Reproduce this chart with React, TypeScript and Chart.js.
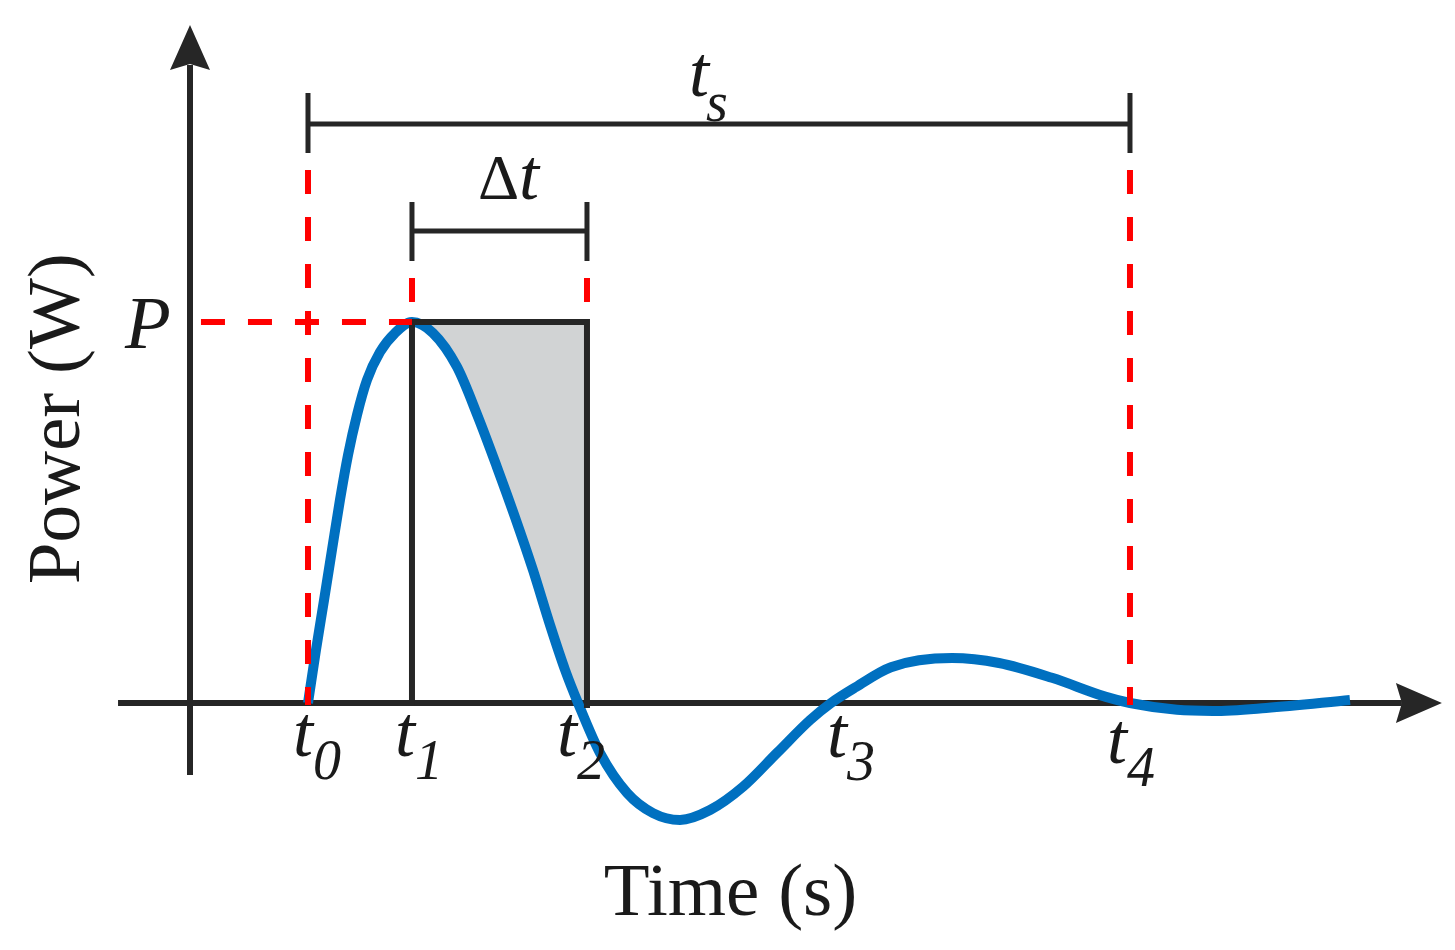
import React, { useEffect, useRef } from "react";
import { Chart, registerables } from "chart.js";

Chart.register(...registerables);

// ---- Data (time in arbitrary units, t0 = 0, t4 = 10; power normalised, P = 1) ----
const timeValues = [
  0, 0.097, 0.195, 0.292, 0.389, 0.487, 0.596, 0.718, 0.876, 1.058, 1.265,
  1.521, 1.813, 2.068, 2.299, 2.518, 2.737, 2.944, 3.127, 3.285, 3.552,
  3.881, 4.197, 4.526, 4.891, 5.292, 5.706, 6.107, 6.363, 6.667, 7.092, 7.835,
  8.406, 9.051, 9.708, 10, 10.572, 11.01, 11.655, 12.676,
];
const powerValues = [
  0, 0.139, 0.27, 0.402, 0.533, 0.651, 0.756, 0.848, 0.921, 0.971, 1.0,
  0.971, 0.882, 0.751, 0.619, 0.488, 0.349, 0.205, 0.087, 0, -0.131,
  -0.236, -0.289, -0.307, -0.281, -0.22, -0.131, -0.045, 0, 0.042, 0.094, 0.118,
  0.105, 0.066, 0.016, 0, -0.018, -0.021, -0.013, 0.008,
];

// key instants
const markTimes = [0, 1.265, 3.394, 6.363, 10]; // t0, t1, t2 (rect edge), t3, t4
const peakPower = 1; // P
const markSubscripts = ["0", "1", "2", "3", "4"];
const markLabelTimes = [-0.182, 1.058, 3.029, 6.314, 9.72];
const markLabelPowers = [-0.139, -0.139, -0.139, -0.142, -0.157];

// view range of the axes
const xView = [-3.747, 13.954];
const yView = [-0.6483, 1.8451];

const INK = "#262626";
const TEXT = "#1a1a1a";
const RED = "#ff0000";
const BLUE = "#0070C0";
const GRAY = "#D1D3D4";
const SERIF = "'Liberation Serif', 'Times New Roman', serif";

function sketchPlugin() {
  return {
    id: "sketch",
    beforeDatasetsDraw(chart: any) {
      const ctx = chart.ctx;
      const xs = chart.scales.x;
      const ys = chart.scales.y;
      const X = (v: number) => xs.getPixelForValue(v);
      const Y = (v: number) => ys.getPixelForValue(v);

      // gray shaded area between curve and P inside [t1, t2]
      const xL = X(markTimes[1]);
      const xR = X(markTimes[2]);
      const yTop = Y(peakPower);
      const yZero = Y(0);
      ctx.save();
      ctx.beginPath();
      ctx.rect(xL, yTop, xR - xL, yZero - yTop);
      ctx.clip();
      ctx.beginPath();
      const meta = chart.getDatasetMeta(0);
      const line = meta && meta.dataset;
      const first = X(timeValues[0]);
      const last = X(timeValues[timeValues.length - 1]);
      if (line && typeof line.path === "function") {
        line.path(ctx);
      } else {
        timeValues.forEach((t, i) => {
          if (i === 0) ctx.moveTo(X(t), Y(powerValues[i]));
          else ctx.lineTo(X(t), Y(powerValues[i]));
        });
      }
      ctx.lineTo(last, yTop);
      ctx.lineTo(first, yTop);
      ctx.closePath();
      ctx.fillStyle = GRAY;
      ctx.fill();
      ctx.restore();

      // axes
      ctx.save();
      ctx.strokeStyle = INK;
      ctx.fillStyle = INK;
      ctx.lineWidth = 6;
      ctx.lineCap = "butt";
      const yAxisX = X(-1.4355);
      const xAxisStart = X(-2.311);
      const xTip = X(13.795);
      const yTip = Y(1.7795);
      const yAxisBottom = Y(-0.189);
      // x axis
      ctx.beginPath();
      ctx.moveTo(xAxisStart, yZero);
      ctx.lineTo(xTip - 40, yZero);
      ctx.stroke();
      // y axis
      ctx.beginPath();
      ctx.moveTo(yAxisX, yAxisBottom);
      ctx.lineTo(yAxisX, yTip + 40);
      ctx.stroke();
      // arrow heads
      ctx.beginPath();
      ctx.moveTo(xTip, yZero);
      ctx.lineTo(xTip - 46, yZero - 20);
      ctx.lineTo(xTip - 40, yZero);
      ctx.lineTo(xTip - 46, yZero + 20);
      ctx.closePath();
      ctx.fill();
      ctx.beginPath();
      ctx.moveTo(yAxisX, yTip);
      ctx.lineTo(yAxisX - 20, yTip + 45);
      ctx.lineTo(yAxisX, yTip + 39);
      ctx.lineTo(yAxisX + 20, yTip + 45);
      ctx.closePath();
      ctx.fill();
      ctx.restore();
    },
    afterDatasetsDraw(chart: any) {
      const ctx = chart.ctx;
      const xs = chart.scales.x;
      const ys = chart.scales.y;
      const X = (v: number) => xs.getPixelForValue(v);
      const Y = (v: number) => ys.getPixelForValue(v);
      const yZero = Y(0);
      const yTop = Y(peakPower);

      ctx.save();
      // rectangle t1..t2 up to P
      ctx.strokeStyle = INK;
      ctx.lineWidth = 6;
      ctx.lineJoin = "miter";
      ctx.beginPath();
      ctx.moveTo(X(markTimes[1]), yZero + 3);
      ctx.lineTo(X(markTimes[1]), yTop);
      ctx.lineTo(X(markTimes[2]), yTop);
      ctx.lineTo(X(markTimes[2]), yZero + 5);
      ctx.stroke();

      // brackets
      const bracket = (a: number, b: number, p: number, pTop: number, pBot: number) => {
        ctx.beginPath();
        ctx.moveTo(X(a), Y(p));
        ctx.lineTo(X(b), Y(p));
        ctx.moveTo(X(a), Y(pTop));
        ctx.lineTo(X(a), Y(pBot));
        ctx.moveTo(X(b), Y(pTop));
        ctx.lineTo(X(b), Y(pBot));
        ctx.stroke();
      };
      ctx.lineWidth = 5;
      bracket(markTimes[0], markTimes[4], 1.5197, 1.601, 1.4436);
      bracket(markTimes[1], markTimes[2], 1.2388, 1.315, 1.16);

      // red dashed guides
      ctx.strokeStyle = RED;
      ctx.lineWidth = 6;
      ctx.setLineDash([24, 23]);
      const seg = (x1: number, y1: number, x2: number, y2: number) => {
        ctx.beginPath();
        ctx.moveTo(x1, y1);
        ctx.lineTo(x2, y2);
        ctx.stroke();
      };
      seg(X(markTimes[0]), Y(1.399), X(markTimes[0]), yZero + 2);
      seg(X(markTimes[4]), Y(1.399), X(markTimes[4]), yZero + 2);
      seg(X(markTimes[1]), Y(1.1155), X(markTimes[1]), yTop);
      seg(X(markTimes[2]), Y(1.1155), X(markTimes[2]), yTop);
      seg(X(-1.302), yTop, X(markTimes[1]), yTop);
      ctx.setLineDash([]);

      // text
      ctx.fillStyle = TEXT;
      ctx.textBaseline = "alphabetic";
      ctx.textAlign = "left";
      markSubscripts.forEach((sub, i) => {
        const lx = X(markLabelTimes[i]);
        const ly = Y(markLabelPowers[i]);
        ctx.font = `italic 72px ${SERIF}`;
        ctx.fillText("t", lx, ly);
        ctx.font = `italic 56px ${SERIF}`;
        ctx.fillText(sub, lx + 20, ly + 23);
      });
      // t_s
      ctx.font = `italic 72px ${SERIF}`;
      ctx.fillText("t", X(4.635), Y(1.593));
      ctx.font = `italic 56px ${SERIF}`;
      ctx.fillText("s", X(4.635) + 17, Y(1.593) + 25);
      // Δt
      ctx.font = `64px ${SERIF}`;
      ctx.fillText("\u0394", X(2.068), Y(1.3228));
      ctx.font = `italic 72px ${SERIF}`;
      ctx.fillText("t", X(2.068) + 41, Y(1.3228));
      // P
      ctx.font = `italic 75px ${SERIF}`;
      ctx.fillText("P", X(-2.226), Y(0.932));

      // axis titles
      ctx.font = `75px ${SERIF}`;
      ctx.textAlign = "center";
      ctx.fillText("Time (s)", X(5.14), Y(-0.556));
      ctx.save();
      ctx.translate(X(-2.786), Y(0.746));
      ctx.rotate(-Math.PI / 2);
      ctx.fillText("Power (W)", 0, 0);
      ctx.restore();
      ctx.restore();
    },
  };
}

export default function App() {
  const canvasRef = useRef<HTMLCanvasElement | null>(null);

  useEffect(() => {
    if (!canvasRef.current) return;
    const chart = new Chart(canvasRef.current, {
      type: "line",
      data: {
        datasets: [
          {
            label: "Power",
            data: timeValues.map((t, i) => ({ x: t, y: powerValues[i] })),
            borderColor: BLUE,
            borderWidth: 10,
            pointRadius: 0,
            fill: false,
            cubicInterpolationMode: "monotone",
          },
        ],
      },
      options: {
        animation: false,
        responsive: false,
        layout: { padding: 0 },
        plugins: { legend: { display: false }, tooltip: { enabled: false } },
        events: [],
        scales: {
          x: { type: "linear", display: false, min: xView[0], max: xView[1] },
          y: { type: "linear", display: false, min: yView[0], max: yView[1] },
        },
      },
      plugins: [sketchPlugin()],
    } as any);
    return () => chart.destroy();
  }, []);

  return (
    <div style={{ position: "absolute", left: 0, top: 0, width: 1455, height: 950, background: "#fff" }}>
      <canvas ref={canvasRef} width={1455} height={950} style={{ display: "block" }} />
    </div>
  );
}
